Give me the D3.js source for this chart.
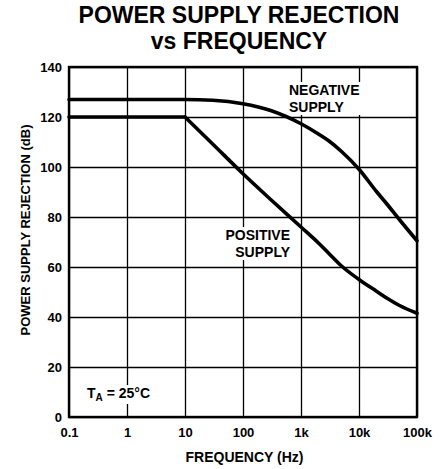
<!DOCTYPE html>
<html>
<head>
<meta charset="utf-8">
<script src="https://cdn.jsdelivr.net/npm/d3@7"></script>
<style>
  html, body { margin: 0; padding: 0; background: #fff; }
  svg { display: block; }
  text { font-family: "Liberation Sans", Arial, Helvetica, sans-serif; font-weight: bold; fill: #000; }
</style>
</head>
<body>
<svg id="chart" width="441" height="469"></svg>
<script>
// ---- data ----
const titleLines = ["POWER SUPPLY REJECTION", "vs FREQUENCY"];
const xTickValues = [0.1, 1, 10, 100, 1000, 10000, 100000];
const xTickLabels = ["0.1", "1", "10", "100", "1k", "10k", "100k"];
const yTickValues = [0, 20, 40, 60, 80, 100, 120, 140];
const negFreq = [0.1, 1, 10, 30, 100, 300, 1000, 2000, 3000, 5000, 10000, 20000, 30000, 50000, 100000];
const negDb   = [127, 127, 127, 126.7, 125.3, 122.6, 117.3, 113.2, 110.5, 106.2, 99.1, 90.2, 85.3, 78.9, 70.5];
// positive supply: flat part, then roll-off from 10 Hz
const posFlatFreq = [0.1, 1, 10];
const posFlatDb   = [120, 120, 120];
const posRollFreq = [10, 30, 100, 300, 1000, 2000, 3000, 5000, 10000, 20000, 30000, 50000, 100000];
const posRollDb   = [120, 109.2, 97.3, 87, 76, 69.6, 65.5, 60.4, 55, 50.3, 47.6, 44.6, 41.5];
const xTitle = "FREQUENCY (Hz)";
const yTitle = "POWER SUPPLY REJECTION (dB)";

// ---- layout ----
const L = 69, R = 417, T = 67, B = 417;
const svg = d3.select("#chart");
const x = d3.scaleLog().domain([0.1, 100000]).range([L, R]);
const y = d3.scaleLinear().domain([0, 140]).range([B, T]);

// title
svg.append("text").attr("x", 239).attr("y", 22.5).attr("text-anchor", "middle")
  .attr("font-size", 23).text(titleLines[0]);
svg.append("text").attr("x", 239).attr("y", 48.5).attr("text-anchor", "middle")
  .attr("font-size", 23).text(titleLines[1]);

// grid via axes
const gx = svg.append("g").attr("transform", `translate(0,${B})`)
  .call(d3.axisBottom(x).tickValues(xTickValues).tickSize(-(B - T)).tickFormat((d, i) => xTickLabels[i]));
gx.select(".domain").remove();
gx.selectAll("line").attr("stroke", "#000").attr("stroke-width", 1.3);
gx.selectAll("text").attr("font-size", 13).attr("y", 11).attr("dy", "0.71em")
  .style("font-family", "Liberation Sans, Arial, sans-serif").style("font-weight", "bold").attr("fill", "#000");

const gy = svg.append("g").attr("transform", `translate(${L},0)`)
  .call(d3.axisLeft(y).tickValues(yTickValues).tickSize(-(R - L)).tickFormat(d3.format("d")));
gy.select(".domain").remove();
gy.selectAll("line").attr("stroke", "#000").attr("stroke-width", 1.3);
gy.selectAll("text").attr("font-size", 13).attr("x", -7)
  .style("font-family", "Liberation Sans, Arial, sans-serif").style("font-weight", "bold").attr("fill", "#000");

// label backgrounds
const bg = svg.append("g").attr("fill", "#fff");
bg.append("rect").attr("x", 287).attr("y", 82).attr("width", 76).attr("height", 33);
bg.append("rect").attr("x", 222).attr("y", 227).attr("width", 71).attr("height", 33);
bg.append("rect").attr("x", 84).attr("y", 385).attr("width", 69).attr("height", 19);

// curves
const smooth = d3.line().x(d => x(d[0])).y(d => y(d[1])).curve(d3.curveMonotoneX);
const straight = d3.line().x(d => x(d[0])).y(d => y(d[1]));
const curveStyle = sel => sel.attr("fill", "none").attr("stroke", "#000")
  .attr("stroke-width", 3.6).attr("stroke-linejoin", "round").attr("stroke-linecap", "round");
svg.append("path").datum(d3.zip(negFreq, negDb)).attr("d", smooth).call(curveStyle);
svg.append("path").datum(d3.zip(posFlatFreq, posFlatDb)).attr("d", straight).call(curveStyle);
svg.append("path").datum(d3.zip(posRollFreq, posRollDb)).attr("d", smooth).call(curveStyle);

// frame
svg.append("rect").attr("x", L).attr("y", T).attr("width", R - L).attr("height", B - T)
  .attr("fill", "none").attr("stroke", "#000").attr("stroke-width", 2.4);

// curve labels
svg.append("text").attr("x", 289).attr("y", 95).attr("font-size", 14).text("NEGATIVE");
svg.append("text").attr("x", 289).attr("y", 111.5).attr("font-size", 14).text("SUPPLY");
svg.append("text").attr("x", 290).attr("y", 240).attr("text-anchor", "end").attr("font-size", 14).text("POSITIVE");
svg.append("text").attr("x", 290).attr("y", 256.5).attr("text-anchor", "end").attr("font-size", 14).text("SUPPLY");

// T_A label
const ta = svg.append("text").attr("x", 87).attr("y", 398.3).attr("font-size", 14);
ta.append("tspan").text("T");
ta.append("tspan").attr("font-size", 10).attr("dy", 3).text("A");
ta.append("tspan").attr("dy", -3).text(" = 25°C");

// axis titles
svg.append("text").attr("x", 244.5).attr("y", 462).attr("text-anchor", "middle").attr("font-size", 14).text(xTitle);
svg.append("text").attr("transform", "translate(30,230) rotate(-90)").attr("text-anchor", "middle")
  .attr("font-size", 13).text(yTitle);
</script>
</body>
</html>
